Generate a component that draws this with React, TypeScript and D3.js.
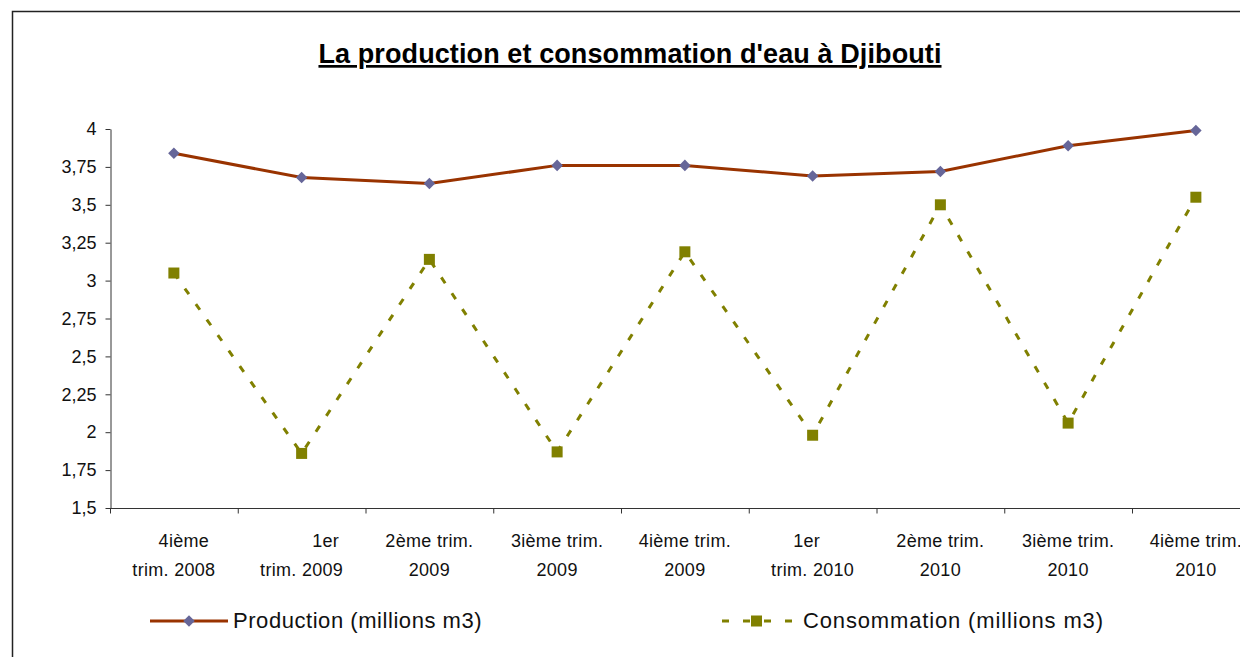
import React, { useEffect, useRef } from 'react';
import * as d3 from 'd3';

// catégories (deux lignes par libellé, comme dans Excel)
const categories = [
  ['4ième', 'trim. 2008'],
  ['1er', 'trim. 2009'],
  ['2ème trim.', '2009'],
  ['3ième trim.', '2009'],
  ['4ième trim.', '2009'],
  ['1er', 'trim. 2010'],
  ['2ème trim.', '2010'],
  ['3ième trim.', '2010'],
  ['4ième trim.', '2010'],
];
const production = [3.84, 3.68, 3.64, 3.76, 3.76, 3.69, 3.72, 3.89, 3.99];
const consommation = [3.05, 1.86, 3.14, 1.87, 3.19, 1.98, 3.5, 2.06, 3.55];
const yTicks = [1.5, 1.75, 2, 2.25, 2.5, 2.75, 3, 3.25, 3.5, 3.75, 4];
const title = "La production et consommation d'eau à Djibouti";
const seriesNames = ['Production (millions m3)', 'Consommation (millions m3)'];

const App = () => {
  const svgRef = useRef<SVGSVGElement>(null);

  useEffect(() => {
    const svg = d3.select(svgRef.current);
    svg.selectAll('*').remove();

    const width = 1240;
    const height = 657;
    const font = 'Liberation Sans, Arial, sans-serif';
    const prodColor = '#993300';
    const prodMarker = '#666699';
    const consColor = '#808000';

    svg.append('rect').attr('width', width).attr('height', height).attr('fill', 'white');

    // cadre du graphique (coupé à droite et en bas)
    svg.append('rect')
      .attr('x', 12.5).attr('y', 11.5)
      .attr('width', 1300).attr('height', 700)
      .attr('fill', 'none').attr('stroke', '#222').attr('stroke-width', 1.5);

    // titre
    svg.append('text')
      .attr('x', 630).attr('y', 63)
      .attr('text-anchor', 'middle')
      .attr('font-family', font).attr('font-size', 27).attr('font-weight', 'bold')
      .attr('letter-spacing', 0.1)
      .attr('text-decoration', 'underline')
      .text(title);

    const x = d3.scaleBand<number>()
      .domain(d3.range(categories.length))
      .range([110, 110 + 127.75 * categories.length]);
    const y = d3.scaleLinear().domain([1.5, 4]).range([508, 129]);
    const cx = (i: number) => (x(i) as number) + x.bandwidth() / 2;

    // axe Y
    const yAxis = svg.append('g')
      .attr('transform', 'translate(110.5,0)')
      .call(d3.axisLeft(y).tickValues(yTicks).tickSizeInner(5).tickSizeOuter(0)
        .tickFormat(d => d3.format('')(d as number).replace('.', ',')));
    yAxis.select('.domain').attr('stroke', '#333');
    yAxis.selectAll('line').attr('stroke', '#333');
    yAxis.selectAll('text')
      .attr('font-family', font).attr('font-size', 18).attr('fill', '#111')
      .attr('x', -14);

    // axe X
    const xAxis = svg.append('g').attr('transform', 'translate(0,508.5)');
    xAxis.append('line')
      .attr('x1', 110).attr('x2', 1240).attr('stroke', '#333');
    xAxis.selectAll('line.tick')
      .data(d3.range(categories.length + 1))
      .enter().append('line')
      .attr('class', 'tick')
      .attr('x1', d => 110.5 + d * x.step()).attr('x2', d => 110.5 + d * x.step())
      .attr('y1', 0).attr('y2', 5).attr('stroke', '#333');

    const firstLineShift = [10, 24, 0, 0, 0, -6, 0, 0, 0];
    const lbl = svg.append('g')
      .attr('font-family', font).attr('font-size', 18).attr('fill', '#111')
      .attr('text-anchor', 'middle').attr('letter-spacing', 0.3);
    categories.forEach((c, i) => {
      lbl.append('text').attr('x', cx(i) + firstLineShift[i]).attr('y', 547).text(c[0]);
      lbl.append('text').attr('x', cx(i)).attr('y', 576).text(c[1]);
    });

    const line = d3.line<number>().x((_, i) => cx(i)).y(d => y(d));

    // consommation (pointillés)
    svg.append('path')
      .datum(consommation)
      .attr('d', line)
      .attr('fill', 'none').attr('stroke', consColor)
      .attr('stroke-width', 3).attr('stroke-dasharray', '7,12');
    svg.selectAll('.sq')
      .data(consommation)
      .enter().append('rect')
      .attr('class', 'sq')
      .attr('x', (_, i) => cx(i) - 5.5).attr('y', d => y(d) - 5.5)
      .attr('width', 11).attr('height', 11).attr('fill', consColor);

    // production
    svg.append('path')
      .datum(production)
      .attr('d', line)
      .attr('fill', 'none').attr('stroke', prodColor).attr('stroke-width', 3);
    const diamond = d3.symbol().type(d3.symbolDiamond2).size(85);
    svg.selectAll('.dm')
      .data(production)
      .enter().append('path')
      .attr('class', 'dm')
      .attr('transform', (d, i) => `translate(${cx(i)},${y(d)})`)
      .attr('d', diamond).attr('fill', prodMarker);

    // légende
    const lg = svg.append('g').attr('font-family', font).attr('font-size', 22).attr('fill', '#111');
    lg.append('line').attr('x1', 150).attr('x2', 228).attr('y1', 621).attr('y2', 621)
      .attr('stroke', prodColor).attr('stroke-width', 3);
    lg.append('path').attr('transform', 'translate(189,621)')
      .attr('d', diamond).attr('fill', prodMarker);
    lg.append('text').attr('x', 233).attr('y', 628).attr('letter-spacing', 0.55).text(seriesNames[0]);

    lg.append('line').attr('x1', 722).attr('x2', 800).attr('y1', 621).attr('y2', 621)
      .attr('stroke', consColor).attr('stroke-width', 3).attr('stroke-dasharray', '7,14');
    lg.append('rect').attr('x', 751).attr('y', 615.5).attr('width', 11).attr('height', 11)
      .attr('fill', consColor);
    lg.append('text').attr('x', 803).attr('y', 628).attr('letter-spacing', 0.85).text(seriesNames[1]);
  }, []);

  return (
    <svg ref={svgRef} width="1240" height="657"
      style={{ position: 'absolute', left: 0, top: 0 }}></svg>
  );
};

export default App;
